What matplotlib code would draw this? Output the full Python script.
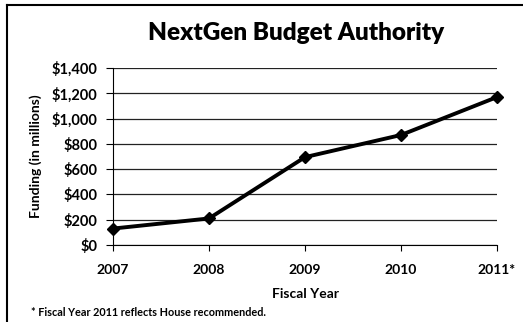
import matplotlib
matplotlib.use("Agg")
import matplotlib.pyplot as plt
from matplotlib.lines import Line2D
from matplotlib.ticker import FuncFormatter

years = ["2007", "2008", "2009", "2010", "2011*"]
funding = [130, 210, 695, 870, 1170]
yticks = [0, 200, 400, 600, 800, 1000, 1200, 1400]

plt.rcParams['font.family'] = ['Lato', 'DejaVu Sans']
plt.rcParams['font.weight'] = 'bold'

fig = plt.figure(figsize=(5.23, 3.22), dpi=100, facecolor='white')
ax = fig.add_axes([113/523, 1 - 245/322, (497 - 113)/523, (245 - 68)/322])

x = list(range(len(years)))
ax.plot(x, funding, color='black', lw=2.8, marker='D', ms=6.5, zorder=3, clip_on=False)

ax.set_xlim(0, len(years) - 1)
ax.set_ylim(0, 1400)
ax.set_xticks(x)
ax.set_xticklabels(years, fontsize=10, fontweight='bold')
ax.set_yticks(yticks)
ax.yaxis.set_major_formatter(FuncFormatter(lambda v, p: "${:,.0f}".format(v)))
for lab in ax.get_yticklabels():
    lab.set_fontsize(10.5)
    lab.set_fontweight('bold')
ax.tick_params(axis='y', length=5, width=0.8, pad=6)
ax.tick_params(axis='x', length=4, width=0.8, pad=10)
ax.grid(axis='y', color='#222222', lw=0.9)
ax.set_axisbelow(True)
for side in ['top', 'right']:
    ax.spines[side].set_visible(False)
ax.spines['left'].set_linewidth(0.8)
ax.spines['bottom'].set_linewidth(0.8)

ax.set_xlabel("Fiscal Year", fontsize=10, fontweight='bold', labelpad=8)
ax.set_ylabel("Funding (in millions)", fontsize=10, fontweight='bold', labelpad=7)

fig.text(296/523, 1 - 33/322, "NextGen Budget Authority", ha='center', va='center',
         fontsize=17.5, fontweight='heavy')
fig.text(31/523, 1 - 313/322, "* Fiscal Year 2011 reflects House recommended.",
         ha='left', va='center', fontsize=7.8, fontweight='bold')

# outer frame (left and top edges visible)
fig.add_artist(Line2D([7/523, 7/523], [0, 1 - 5/322], transform=fig.transFigure, color='black', lw=1.5))
fig.add_artist(Line2D([7/523, 1], [1 - 5/322, 1 - 5/322], transform=fig.transFigure, color='black', lw=1.5))

fig.savefig("out.png", dpi=100, facecolor='white')
